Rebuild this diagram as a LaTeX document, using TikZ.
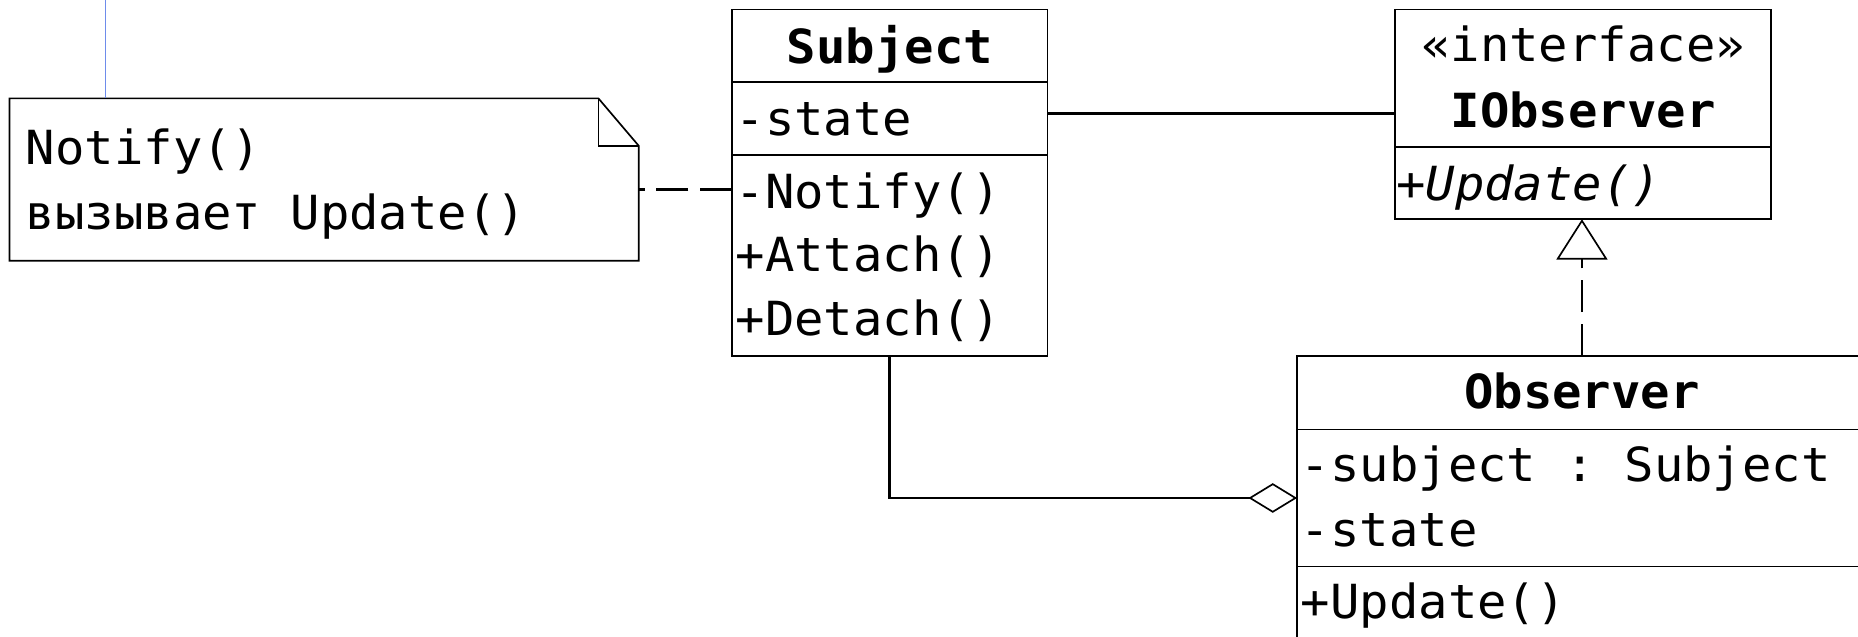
\documentclass[tikz,border=0pt]{standalone}
\usepackage{fontspec}
\setmonofont{DejaVu Sans Mono}[BoldFont={DejaVu Sans Mono Bold},ItalicFont={DejaVu Sans Mono Oblique},FakeStretch=1.04]
\usetikzlibrary{arrows.meta}
\definecolor{noteblue}{RGB}{110,140,235}
\newcommand{\umlfont}{\ttfamily\fontsize{23.8pt}{32pt}\selectfont}

\begin{document}
\begin{tikzpicture}[x=0.6pt, y=-0.6pt,
    box/.style={draw, line width=0.85pt, anchor=north west, inner sep=0pt, outer sep=0pt},
    member/.style={anchor=base west, inner sep=0pt, font=\umlfont},
    classname/.style={anchor=base, inner sep=0pt, font=\umlfont\bfseries},
    link/.style={line width=1.5pt},
    dashlink/.style={line width=1.4pt, dash pattern=on 16.2pt off 6pt}]

\path[use as bounding box, clip] (0,0) rectangle (1568,536.75);

% note
    \node[anchor=north west, inner sep=0pt, outer sep=0pt, minimum width=318.6pt, minimum height=82.2pt] (note) at (8,83) {};
    \draw[line width=0.85pt] (note.north west) -- ([xshift=-20.4pt]note.north east)
        -- ([yshift=-24pt]note.north east) -- (note.south east) -- (note.south west) -- cycle;
    \draw[line width=0.85pt] ([xshift=-20.4pt]note.north east) |- ([yshift=-24pt]note.north east);
    \node[member] (noteline1) at (21.5,139) {Notify()};
    \node[member] (noteline2) at (21.5,194) {вызывает Update()};
    \coordinate (noteup) at (89,-10);
    \draw[noteblue, line width=0.6pt] (noteup) -- (noteup |- note.north);

% Subject
    \node[box, minimum width=159.6pt, minimum height=36.6pt] (subjhead) at (618,8) {};
    \node[box, minimum width=159.6pt, minimum height=37.2pt] (subjattr) at (subjhead.south west) {};
    \node[box, minimum width=159.6pt, minimum height=101.7pt] (subjops) at (subjattr.south west) {};
    \node[classname] (subjname) at (751,53.5) {Subject};
    \node[member] (subjstate) at (620.5,114) {-state};
    \node[member] (subjnotify) at (620.5,176) {-Notify()};
    \node[member] (subjattach) at (620.5,229.5) {+Attach()};
    \node[member] (subjdetach) at (620.5,283) {+Detach()};

% IObserver
    \node[box, minimum width=190.5pt, minimum height=69.6pt] (iobshead) at (1177,8) {};
    \node[box, minimum width=190.5pt, minimum height=36.6pt] (iobsops) at (iobshead.south west) {};
    \node[anchor=base, inner sep=0pt, font=\umlfont] (iobsstereo) at (1336,52) {«interface»};
    \node[classname] (iobsname) at (1336,108) {IObserver};
    \node[member, font=\umlfont\itshape] (iobsupdate) at (1178,169) {+Update()};

% Observer
    \node[box, minimum width=288.5pt, minimum height=37.1pt] (obshead) at (1094.6,300.5) {};
    \node[box, minimum width=288.5pt, minimum height=69.5pt] (obsattr) at (obshead.south west) {};
    \node[box, minimum width=288.5pt, minimum height=37.6pt] (obsops) at (obsattr.south west) {};
    \node[classname] (obsname) at (1335,344.5) {Observer};
    \node[member] (obssubject) at (1097.5,406.5) {-subject : Subject};
    \node[member] (obsstate) at (1097.5,461.4) {-state};
    \node[member] (obsupdate) at (1097.5,521.6) {+Update()};

% connectors
    \draw[link] ([yshift=2.64pt]subjattr.east) -- ([yshift=2.64pt]subjattr.east -| iobshead.west);
    \draw[dashlink] ([yshift=-17.4pt]subjops.north west) -- ([yshift=-17.4pt]subjops.north west -| note.east);
    \draw[link, -{Diamond[open, length=24.6pt, width=15pt, line width=0.85pt]}]
        (subjops.south) |- (obsattr.west);
    \draw[dashlink, -{Triangle[open, length=20.4pt, width=25.8pt, line width=0.85pt]}]
        (obshead.north) -- (obshead.north |- iobsops.south);
\end{tikzpicture}
\end{document}
